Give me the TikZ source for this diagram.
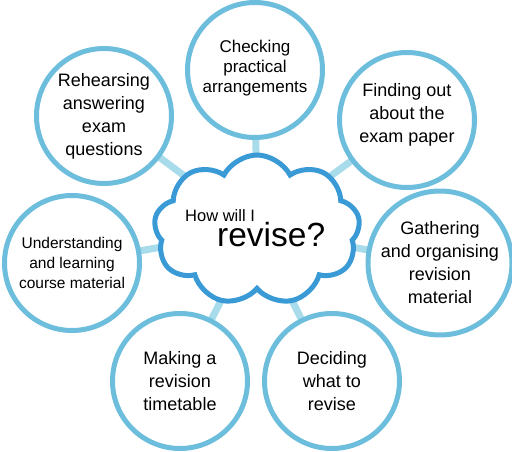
\documentclass[tikz,border=0pt]{standalone}
\usepackage{fontspec}
\setmainfont{Liberation Sans}
\usetikzlibrary{shapes.symbols}
\definecolor{ringblue}{HTML}{6DBEDD}
\definecolor{linkblue}{HTML}{A8DCEB}
\definecolor{cloudblue}{HTML}{3A9AD6}
\tikzset{
  topic/.style={circle, draw=ringblue, line width=5pt, fill=white, minimum size=135pt, inner sep=0pt, align=center, text=black, font=\fontsize{18}{23}\selectfont},
  link/.style={draw=linkblue, line width=7pt},
  thought/.style={cloud, cloud puffs=9, cloud puff arc=125, aspect=1.4, draw=cloudblue, line width=5pt, fill=white, minimum width=206pt, minimum height=150pt, inner sep=0pt}
}
\begin{document}
\begin{tikzpicture}[x=1pt,y=-1pt]
\useasboundingbox (0,0) rectangle (512,452);
\coordinate (c) at (257,230);
\coordinate (p1) at (255,70);
\coordinate (p2) at (407,120);
\coordinate (p3) at (440,263);
\coordinate (p4) at (332,381);
\coordinate (p5) at (180,381);
\coordinate (p6) at (72,263);
\coordinate (p7) at (104,116);
\foreach \i in {1,...,7} \draw[link] (c) -- (p\i);
\node[thought] (cl) at (c) {};
\node[anchor=base west, inner sep=0pt] (q) at (185,246.5) {\vbox{\baselineskip=25pt\lineskiplimit=-100pt\lineskip=0pt
  \hbox{\fontsize{16.5}{18}\selectfont How will I}
  \hbox{\hspace*{32pt}\fontsize{33.5}{36}\selectfont revise?}}};
\node[topic, font=\fontsize{17}{20}\selectfont] (t1) at (p1) {};
\node[align=center, font=\fontsize{17}{20}\selectfont] (l1) at (255,68) {Checking\\practical\\arrangements};
\node[topic] (t2) at (p2) {};
\node[align=center, font=\fontsize{18}{23}\selectfont] (l2) at (407,115) {Finding out\\about the\\exam paper};
\node[topic] (t3) at (p3) {Gathering\\and organising\\revision\\material};
\node[topic] (t4) at (p4) {Deciding\\what to\\revise};
\node[topic] (t5) at (p5) {Making a\\revision\\timetable};
\node[topic, font=\fontsize{15.5}{20}\selectfont] (t6) at (p6) {Understanding\\and learning\\course material};
\node[topic] (t7) at (p7) {Rehearsing\\answering\\exam\\questions};
\end{tikzpicture}
\end{document}
